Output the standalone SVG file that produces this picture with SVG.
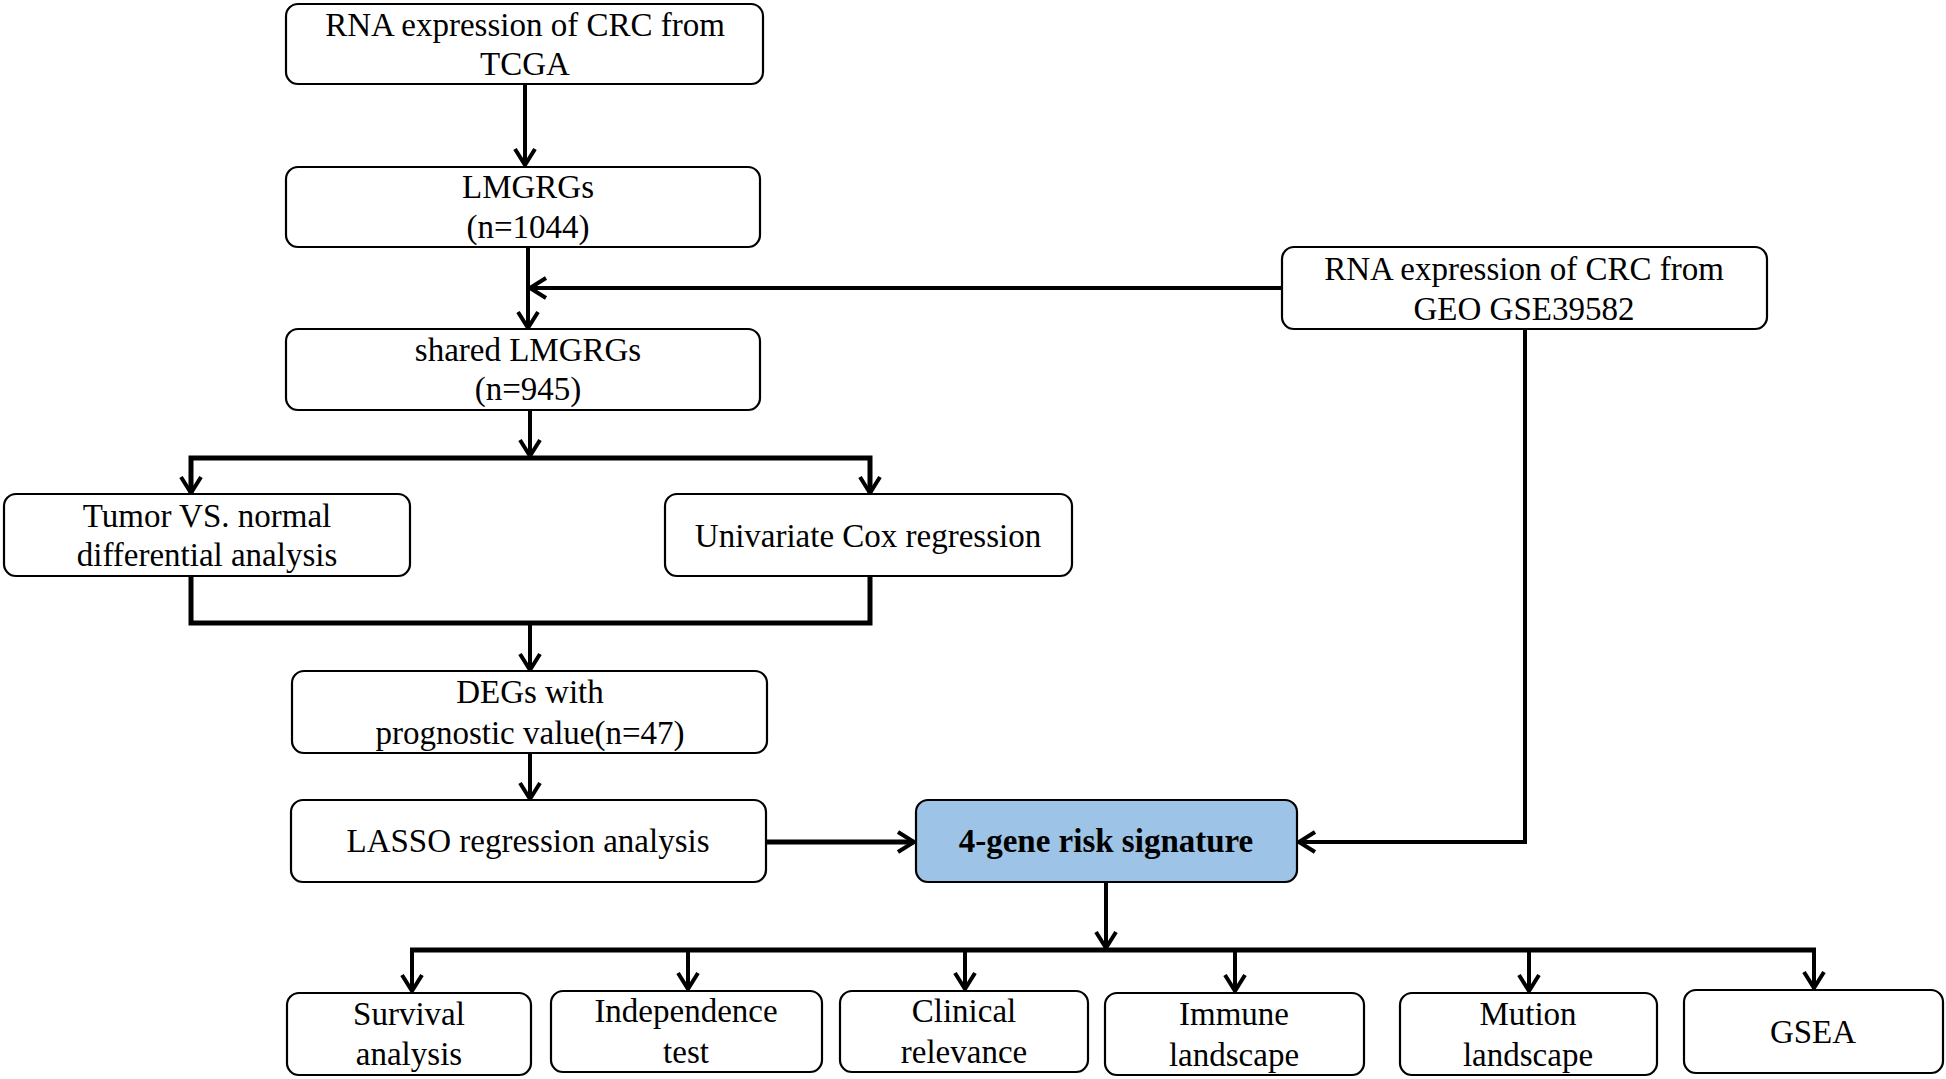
<svg xmlns="http://www.w3.org/2000/svg" width="1946" height="1079" viewBox="0 0 1946 1079">
<style>
.box{fill:#fff;stroke:#000;stroke-width:2.2}
.hl{fill:#9dc3e6;stroke:#000;stroke-width:2.2}
text{font-family:"Liberation Serif","Times New Roman",serif;font-size:33px;fill:#000;text-anchor:middle}
.b{font-weight:bold}
.c{fill:none;stroke:#000;stroke-width:4;stroke-linejoin:miter}
.t{fill:none;stroke:#000;stroke-width:5}
</style>
<defs>
<marker id="ah" markerUnits="userSpaceOnUse" markerWidth="24" markerHeight="24" refX="18" refY="12" orient="auto" viewBox="0 0 24 24">
<path d="M2,2 L18,12 L2,22" fill="none" stroke="#000" stroke-width="4"/>
</marker>
</defs>
<rect width="1946" height="1079" fill="#fff"/>
<g id="connectors">
<line class="c" x1="525" y1="84" x2="525" y2="165" marker-end="url(#ah)"/>
<line class="c" x1="528" y1="247" x2="528" y2="328" marker-end="url(#ah)"/>
<line class="c" x1="1282" y1="288" x2="530" y2="288" marker-end="url(#ah)"/>
<line class="c" x1="530" y1="410" x2="530" y2="456" marker-end="url(#ah)"/>
<polyline class="t" points="191,493 191,458 870,458 870,493"/>
<line class="c" x1="191" y1="458" x2="191" y2="493" marker-end="url(#ah)"/>
<line class="c" x1="870" y1="458" x2="870" y2="493" marker-end="url(#ah)"/>
<polyline class="t" points="191,576 191,623 870,623 870,576"/>
<line class="c" x1="530" y1="623" x2="530" y2="670" marker-end="url(#ah)"/>
<line class="c" x1="530" y1="753" x2="530" y2="799" marker-end="url(#ah)"/>
<line class="t" x1="766" y1="842" x2="914" y2="842" marker-end="url(#ah)"/>
<polyline class="c" points="1525,329 1525,842 1299,842" marker-end="url(#ah)"/>
<line class="c" x1="1106" y1="882" x2="1106" y2="948" marker-end="url(#ah)"/>
<line class="t" x1="410" y1="950" x2="1816" y2="950"/>
<line class="c" x1="412" y1="950" x2="412" y2="991" marker-end="url(#ah)"/>
<line class="c" x1="688" y1="950" x2="688" y2="989" marker-end="url(#ah)"/>
<line class="c" x1="965" y1="950" x2="965" y2="989" marker-end="url(#ah)"/>
<line class="c" x1="1235" y1="950" x2="1235" y2="991" marker-end="url(#ah)"/>
<line class="c" x1="1529" y1="950" x2="1529" y2="991" marker-end="url(#ah)"/>
<line class="c" x1="1814" y1="950" x2="1814" y2="988" marker-end="url(#ah)"/>
</g>
<g id="n_tcga"><rect class="box" x="286" y="4" width="477" height="80" rx="12"/><text x="525" y="36">RNA expression of CRC from</text><text x="525" y="75">TCGA</text></g>
<g id="n_lmgrgs"><rect class="box" x="286" y="167" width="474" height="80" rx="12"/><text x="528" y="198">LMGRGs</text><text x="528" y="238">(n=1044)</text></g>
<g id="n_shared"><rect class="box" x="286" y="329" width="474" height="81" rx="12"/><text x="528" y="361">shared LMGRGs</text><text x="528" y="400">(n=945)</text></g>
<g id="n_geo"><rect class="box" x="1282" y="247" width="485" height="82" rx="12"/><text x="1524" y="280">RNA expression of CRC from</text><text x="1524" y="320">GEO GSE39582</text></g>
<g id="n_tumor"><rect class="box" x="4" y="494" width="406" height="82" rx="12"/><text x="207" y="527">Tumor VS. normal</text><text x="207" y="566">differential analysis</text></g>
<g id="n_cox"><rect class="box" x="665" y="494" width="407" height="82" rx="12"/><text x="868" y="547">Univariate Cox regression</text></g>
<g id="n_degs"><rect class="box" x="292" y="671" width="475" height="82" rx="12"/><text x="530" y="703">DEGs with</text><text x="530" y="744">prognostic value(n=47)</text></g>
<g id="n_lasso"><rect class="box" x="291" y="800" width="475" height="82" rx="12"/><text x="528" y="852">LASSO regression analysis</text></g>
<g id="n_sig"><rect class="hl" x="916" y="800" width="381" height="82" rx="12"/><text class="b" x="1106" y="852">4-gene risk signature</text></g>
<g id="n_surv"><rect class="box" x="287" y="993" width="244" height="82" rx="12"/><text x="409" y="1025">Survival</text><text x="409" y="1065">analysis</text></g>
<g id="n_indep"><rect class="box" x="551" y="991" width="271" height="81" rx="12"/><text x="686" y="1022">Independence</text><text x="686" y="1063">test</text></g>
<g id="n_clin"><rect class="box" x="840" y="991" width="248" height="81" rx="12"/><text x="964" y="1022">Clinical</text><text x="964" y="1063">relevance</text></g>
<g id="n_immune"><rect class="box" x="1105" y="993" width="259" height="82" rx="12"/><text x="1234" y="1025">Immune</text><text x="1234" y="1066">landscape</text></g>
<g id="n_mution"><rect class="box" x="1400" y="993" width="257" height="82" rx="12"/><text x="1528" y="1025">Mution</text><text x="1528" y="1066">landscape</text></g>
<g id="n_gsea"><rect class="box" x="1684" y="990" width="259" height="83" rx="12"/><text x="1813" y="1043">GSEA</text></g>
</svg>
